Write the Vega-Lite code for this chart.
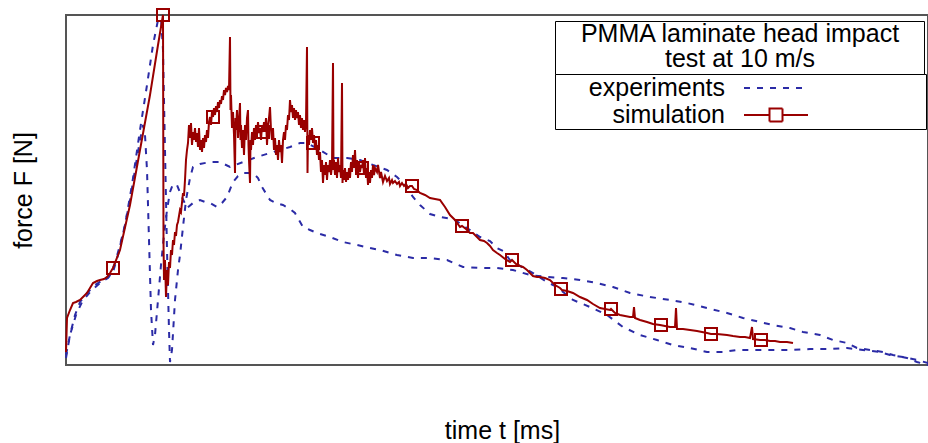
{
  "$schema": "https://vega.github.io/schema/vega-lite/v6.json",
  "width": 862,
  "height": 350,
  "autosize": {"type": "none"},
  "padding": {"left": 66, "top": 15, "right": 0, "bottom": 78},
  "background": "white",
  "config": {
    "font": "Liberation Sans",
    "view": {"stroke": "#555555", "strokeWidth": 2},
    "axis": {"labels": false, "ticks": false, "domain": false, "grid": false,
             "titleFont": "Liberation Sans", "titleFontSize": 25, "titleFontWeight": "normal", "titleColor": "black"}
  },
  "datasets": {
    "exp": [
      {"run": "A", "t": 0, "F": 100}, {"run": "A", "t": 0.04, "F": 300}, {"run": "A", "t": 0.09, "F": 500}, {"run": "A", "t": 0.14, "F": 630},
      {"run": "A", "t": 0.21, "F": 720}, {"run": "A", "t": 0.29, "F": 800}, {"run": "A", "t": 0.37, "F": 850}, {"run": "A", "t": 0.44, "F": 900},
      {"run": "A", "t": 0.49, "F": 1020}, {"run": "A", "t": 0.54, "F": 1200}, {"run": "A", "t": 0.59, "F": 1400}, {"run": "A", "t": 0.64, "F": 1650},
      {"run": "A", "t": 0.69, "F": 1950}, {"run": "A", "t": 0.74, "F": 2250}, {"run": "A", "t": 0.77, "F": 2400}, {"run": "A", "t": 0.79, "F": 2300},
      {"run": "A", "t": 0.81, "F": 1950}, {"run": "A", "t": 0.83, "F": 1250}, {"run": "A", "t": 0.85, "F": 550}, {"run": "A", "t": 0.87, "F": 200},
      {"run": "A", "t": 0.89, "F": 300}, {"run": "A", "t": 0.92, "F": 650}, {"run": "A", "t": 0.95, "F": 1000}, {"run": "A", "t": 0.98, "F": 1300},
      {"run": "A", "t": 1.01, "F": 1550}, {"run": "A", "t": 1.04, "F": 1730}, {"run": "A", "t": 1.07, "F": 1810}, {"run": "A", "t": 1.11, "F": 1800},
      {"run": "A", "t": 1.15, "F": 1700}, {"run": "A", "t": 1.21, "F": 1570}, {"run": "A", "t": 1.27, "F": 1620}, {"run": "A", "t": 1.34, "F": 1650},
      {"run": "A", "t": 1.39, "F": 1630}, {"run": "A", "t": 1.44, "F": 1620}, {"run": "A", "t": 1.51, "F": 1580}, {"run": "A", "t": 1.56, "F": 1620},
      {"run": "A", "t": 1.61, "F": 1680}, {"run": "A", "t": 1.67, "F": 1830}, {"run": "A", "t": 1.72, "F": 1890}, {"run": "A", "t": 1.77, "F": 1920},
      {"run": "A", "t": 1.87, "F": 1920}, {"run": "A", "t": 1.92, "F": 1870}, {"run": "A", "t": 1.96, "F": 1780}, {"run": "A", "t": 2.04, "F": 1650},
      {"run": "A", "t": 2.10, "F": 1620}, {"run": "A", "t": 2.17, "F": 1600}, {"run": "A", "t": 2.24, "F": 1560}, {"run": "A", "t": 2.29, "F": 1520},
      {"run": "A", "t": 2.37, "F": 1380}, {"run": "A", "t": 2.44, "F": 1350}, {"run": "A", "t": 2.51, "F": 1320}, {"run": "A", "t": 2.64, "F": 1280},
      {"run": "A", "t": 2.77, "F": 1230}, {"run": "A", "t": 2.91, "F": 1200}, {"run": "A", "t": 3.04, "F": 1170}, {"run": "A", "t": 3.14, "F": 1150},
      {"run": "A", "t": 3.31, "F": 1100}, {"run": "A", "t": 3.47, "F": 1070}, {"run": "A", "t": 3.64, "F": 1070}, {"run": "A", "t": 3.81, "F": 1050},
      {"run": "A", "t": 3.97, "F": 980}, {"run": "A", "t": 4.14, "F": 970}, {"run": "A", "t": 4.31, "F": 970}, {"run": "A", "t": 4.47, "F": 950},
      {"run": "A", "t": 4.64, "F": 900}, {"run": "A", "t": 4.81, "F": 880}, {"run": "A", "t": 4.97, "F": 870}, {"run": "A", "t": 5.14, "F": 850},
      {"run": "A", "t": 5.31, "F": 820}, {"run": "A", "t": 5.47, "F": 780}, {"run": "A", "t": 5.64, "F": 720}, {"run": "A", "t": 5.84, "F": 680},
      {"run": "A", "t": 6.04, "F": 650}, {"run": "A", "t": 6.21, "F": 620}, {"run": "A", "t": 6.41, "F": 570}, {"run": "A", "t": 6.61, "F": 520},
      {"run": "A", "t": 6.77, "F": 470}, {"run": "A", "t": 6.94, "F": 430}, {"run": "A", "t": 7.07, "F": 400}, {"run": "A", "t": 7.24, "F": 370},
      {"run": "A", "t": 7.37, "F": 330}, {"run": "A", "t": 7.54, "F": 300}, {"run": "A", "t": 7.67, "F": 250}, {"run": "A", "t": 7.81, "F": 220},
      {"run": "A", "t": 7.91, "F": 170}, {"run": "A", "t": 8.04, "F": 150}, {"run": "A", "t": 8.17, "F": 130}, {"run": "A", "t": 8.27, "F": 100},
      {"run": "A", "t": 8.41, "F": 70}, {"run": "A", "t": 8.51, "F": 30}, {"run": "A", "t": 8.62, "F": 0},
      {"run": "B", "t": 0, "F": 70}, {"run": "B", "t": 0.04, "F": 300}, {"run": "B", "t": 0.10, "F": 500}, {"run": "B", "t": 0.16, "F": 630},
      {"run": "B", "t": 0.24, "F": 730}, {"run": "B", "t": 0.34, "F": 820}, {"run": "B", "t": 0.42, "F": 870}, {"run": "B", "t": 0.47, "F": 930},
      {"run": "B", "t": 0.52, "F": 1100}, {"run": "B", "t": 0.59, "F": 1400}, {"run": "B", "t": 0.66, "F": 1800}, {"run": "B", "t": 0.74, "F": 2350},
      {"run": "B", "t": 0.81, "F": 2800}, {"run": "B", "t": 0.87, "F": 3200}, {"run": "B", "t": 0.92, "F": 3450}, {"run": "B", "t": 0.95, "F": 3470},
      {"run": "B", "t": 0.97, "F": 3150}, {"run": "B", "t": 0.99, "F": 2150}, {"run": "B", "t": 1.01, "F": 1150}, {"run": "B", "t": 1.03, "F": 350},
      {"run": "B", "t": 1.04, "F": 30}, {"run": "B", "t": 1.06, "F": 150}, {"run": "B", "t": 1.09, "F": 650}, {"run": "B", "t": 1.12, "F": 950},
      {"run": "B", "t": 1.14, "F": 1100}, {"run": "B", "t": 1.17, "F": 1380}, {"run": "B", "t": 1.20, "F": 1650}, {"run": "B", "t": 1.24, "F": 1870},
      {"run": "B", "t": 1.27, "F": 1980}, {"run": "B", "t": 1.34, "F": 2010}, {"run": "B", "t": 1.44, "F": 2030}, {"run": "B", "t": 1.54, "F": 2030},
      {"run": "B", "t": 1.64, "F": 1980}, {"run": "B", "t": 1.77, "F": 2030}, {"run": "B", "t": 1.91, "F": 2080}, {"run": "B", "t": 2.04, "F": 2120},
      {"run": "B", "t": 2.14, "F": 2150}, {"run": "B", "t": 2.24, "F": 2180}, {"run": "B", "t": 2.34, "F": 2220}, {"run": "B", "t": 2.41, "F": 2220},
      {"run": "B", "t": 2.54, "F": 2150}, {"run": "B", "t": 2.67, "F": 2070}, {"run": "B", "t": 2.81, "F": 2070}, {"run": "B", "t": 2.94, "F": 2050},
      {"run": "B", "t": 3.07, "F": 2000}, {"run": "B", "t": 3.21, "F": 1950}, {"run": "B", "t": 3.31, "F": 1880}, {"run": "B", "t": 3.39, "F": 1800},
      {"run": "B", "t": 3.47, "F": 1680}, {"run": "B", "t": 3.54, "F": 1600}, {"run": "B", "t": 3.64, "F": 1510}, {"run": "B", "t": 3.74, "F": 1480},
      {"run": "B", "t": 3.87, "F": 1460}, {"run": "B", "t": 4.01, "F": 1370}, {"run": "B", "t": 4.14, "F": 1280}, {"run": "B", "t": 4.24, "F": 1240},
      {"run": "B", "t": 4.31, "F": 1170}, {"run": "B", "t": 4.37, "F": 1140}, {"run": "B", "t": 4.44, "F": 1050}, {"run": "B", "t": 4.54, "F": 990},
      {"run": "B", "t": 4.67, "F": 920}, {"run": "B", "t": 4.81, "F": 830}, {"run": "B", "t": 4.91, "F": 780}, {"run": "B", "t": 5.07, "F": 650},
      {"run": "B", "t": 5.24, "F": 580}, {"run": "B", "t": 5.41, "F": 500}, {"run": "B", "t": 5.57, "F": 380}, {"run": "B", "t": 5.74, "F": 300},
      {"run": "B", "t": 5.91, "F": 250}, {"run": "B", "t": 6.07, "F": 200}, {"run": "B", "t": 6.24, "F": 170}, {"run": "B", "t": 6.41, "F": 130},
      {"run": "B", "t": 6.57, "F": 130}, {"run": "B", "t": 6.71, "F": 150}, {"run": "B", "t": 6.84, "F": 150}, {"run": "B", "t": 7.04, "F": 150},
      {"run": "B", "t": 7.24, "F": 150}, {"run": "B", "t": 7.44, "F": 160}, {"run": "B", "t": 7.64, "F": 160}, {"run": "B", "t": 7.81, "F": 170},
      {"run": "B", "t": 7.97, "F": 150}, {"run": "B", "t": 8.14, "F": 130}, {"run": "B", "t": 8.24, "F": 100}, {"run": "B", "t": 8.37, "F": 80},
      {"run": "B", "t": 8.51, "F": 50}, {"run": "B", "t": 8.62, "F": 20}
    ],
    "sim": [
      {"t": 0, "F": 130}, {"t": 0.01, "F": 470}, {"t": 0.04, "F": 550}, {"t": 0.07, "F": 620}, {"t": 0.10, "F": 630}, {"t": 0.14, "F": 650},
      {"t": 0.18, "F": 690}, {"t": 0.21, "F": 720}, {"t": 0.24, "F": 770}, {"t": 0.27, "F": 820}, {"t": 0.31, "F": 840}, {"t": 0.34, "F": 850},
      {"t": 0.38, "F": 860}, {"t": 0.41, "F": 880}, {"t": 0.44, "F": 920}, {"t": 0.47, "F": 970}, {"t": 0.54, "F": 1150}, {"t": 0.64, "F": 1600},
      {"t": 0.74, "F": 2150}, {"t": 0.84, "F": 2700}, {"t": 0.92, "F": 3200}, {"t": 0.97, "F": 3500}, {"t": 0.975, "F": 1220}, {"t": 0.98, "F": 850},
      {"t": 0.99, "F": 1050}, {"t": 1.00, "F": 680}, {"t": 1.01, "F": 950}, {"t": 1.02, "F": 800}, {"t": 1.03, "F": 1030}, {"t": 1.04, "F": 970},
      {"t": 1.05, "F": 1150}, {"t": 1.06, "F": 1100}, {"t": 1.07, "F": 1250}, {"t": 1.08, "F": 1200}, {"t": 1.09, "F": 1330}, {"t": 1.10, "F": 1290},
      {"t": 1.11, "F": 1400}, {"t": 1.12, "F": 1430}, {"t": 1.14, "F": 1550}, {"t": 1.15, "F": 1530}, {"t": 1.17, "F": 1720}, {"t": 1.18, "F": 1690},
      {"t": 1.19, "F": 1850}, {"t": 1.20, "F": 2050}, {"t": 1.21, "F": 2150},
      {"t": 1.22, "F": 2220}, {"t": 1.23, "F": 2400}, {"t": 1.24, "F": 2270}, {"t": 1.25, "F": 2420}, {"t": 1.26, "F": 2200}, {"t": 1.27, "F": 2330},
      {"t": 1.28, "F": 2250}, {"t": 1.29, "F": 2370}, {"t": 1.30, "F": 2230}, {"t": 1.31, "F": 2320}, {"t": 1.32, "F": 2180}, {"t": 1.33, "F": 2370},
      {"t": 1.34, "F": 2150}, {"t": 1.35, "F": 2250}, {"t": 1.36, "F": 2130}, {"t": 1.37, "F": 2270}, {"t": 1.38, "F": 2170}, {"t": 1.39, "F": 2300},
      {"t": 1.40, "F": 2230}, {"t": 1.41, "F": 2350}, {"t": 1.42, "F": 2270}, {"t": 1.43, "F": 2430}, {"t": 1.44, "F": 2480}, {"t": 1.45, "F": 2400},
      {"t": 1.46, "F": 2530}, {"t": 1.47, "F": 2480}, {"t": 1.48, "F": 2570}, {"t": 1.49, "F": 2500}, {"t": 1.50, "F": 2590}, {"t": 1.51, "F": 2530},
      {"t": 1.52, "F": 2630}, {"t": 1.53, "F": 2570}, {"t": 1.54, "F": 2650}, {"t": 1.55, "F": 2610}, {"t": 1.56, "F": 2690}, {"t": 1.57, "F": 2650},
      {"t": 1.58, "F": 2750}, {"t": 1.59, "F": 2700}, {"t": 1.60, "F": 2770}, {"t": 1.61, "F": 2730}, {"t": 1.62, "F": 2790}, {"t": 1.63, "F": 2750},
      {"t": 1.64, "F": 3280}, {"t": 1.645, "F": 2550}, {"t": 1.65, "F": 2700}, {"t": 1.66, "F": 2370}, {"t": 1.67, "F": 2530}, {"t": 1.68, "F": 2300},
      {"t": 1.69, "F": 1920}, {"t": 1.695, "F": 2470}, {"t": 1.70, "F": 2350}, {"t": 1.71, "F": 2550}, {"t": 1.72, "F": 2270}, {"t": 1.73, "F": 2450},
      {"t": 1.74, "F": 2620}, {"t": 1.745, "F": 2250}, {"t": 1.75, "F": 2400}, {"t": 1.76, "F": 2170}, {"t": 1.77, "F": 2350}, {"t": 1.78, "F": 2100},
      {"t": 1.79, "F": 2400}, {"t": 1.80, "F": 2250}, {"t": 1.81, "F": 2470}, {"t": 1.82, "F": 2550}, {"t": 1.825, "F": 2200}, {"t": 1.83, "F": 2050},
      {"t": 1.84, "F": 1820}, {"t": 1.845, "F": 2250}, {"t": 1.85, "F": 2150}, {"t": 1.86, "F": 2330}, {"t": 1.87, "F": 2200}, {"t": 1.88, "F": 2370},
      {"t": 1.89, "F": 2250}, {"t": 1.90, "F": 2400}, {"t": 1.91, "F": 2300}, {"t": 1.92, "F": 2430}, {"t": 1.93, "F": 2320}, {"t": 1.94, "F": 2370},
      {"t": 1.95, "F": 2250}, {"t": 1.96, "F": 2400}, {"t": 1.97, "F": 2330}, {"t": 1.98, "F": 2430}, {"t": 1.99, "F": 2330}, {"t": 2.00, "F": 2470},
      {"t": 2.01, "F": 2200}, {"t": 2.02, "F": 2400}, {"t": 2.03, "F": 2470}, {"t": 2.04, "F": 2580}, {"t": 2.05, "F": 2350}, {"t": 2.06, "F": 2250},
      {"t": 2.07, "F": 2370}, {"t": 2.08, "F": 2150}, {"t": 2.09, "F": 2270}, {"t": 2.10, "F": 2100}, {"t": 2.11, "F": 2200}, {"t": 2.12, "F": 2050},
      {"t": 2.13, "F": 2250}, {"t": 2.14, "F": 2130}, {"t": 2.15, "F": 2200}, {"t": 2.16, "F": 2020}, {"t": 2.17, "F": 2250}, {"t": 2.18, "F": 2330},
      {"t": 2.19, "F": 2250}, {"t": 2.20, "F": 2400}, {"t": 2.21, "F": 2350}, {"t": 2.22, "F": 2500}, {"t": 2.23, "F": 2450}, {"t": 2.24, "F": 2650},
      {"t": 2.25, "F": 2530}, {"t": 2.26, "F": 2600}, {"t": 2.27, "F": 2470}, {"t": 2.28, "F": 2570}, {"t": 2.29, "F": 2450}, {"t": 2.30, "F": 2550},
      {"t": 2.31, "F": 2470}, {"t": 2.32, "F": 2530}, {"t": 2.33, "F": 2400}, {"t": 2.34, "F": 2500}, {"t": 2.35, "F": 2370}, {"t": 2.36, "F": 2470},
      {"t": 2.37, "F": 2350}, {"t": 2.38, "F": 2450}, {"t": 2.39, "F": 2330}, {"t": 2.40, "F": 2430}, {"t": 2.41, "F": 3180}, {"t": 2.415, "F": 1920},
      {"t": 2.42, "F": 2300}, {"t": 2.43, "F": 2200}, {"t": 2.44, "F": 2350}, {"t": 2.45, "F": 2250}, {"t": 2.46, "F": 2370}, {"t": 2.47, "F": 2220},
      {"t": 2.48, "F": 2300}, {"t": 2.49, "F": 2170}, {"t": 2.50, "F": 2250}, {"t": 2.51, "F": 2100}, {"t": 2.52, "F": 2200}, {"t": 2.53, "F": 2050},
      {"t": 2.54, "F": 2130}, {"t": 2.55, "F": 1930}, {"t": 2.56, "F": 2050}, {"t": 2.57, "F": 1820}, {"t": 2.58, "F": 2000}, {"t": 2.59, "F": 1900},
      {"t": 2.60, "F": 2030}, {"t": 2.61, "F": 1850}, {"t": 2.62, "F": 2000}, {"t": 2.63, "F": 1930}, {"t": 2.64, "F": 2050}, {"t": 2.65, "F": 1900},
      {"t": 2.66, "F": 2000}, {"t": 2.67, "F": 3020}, {"t": 2.675, "F": 1950}, {"t": 2.68, "F": 2050}, {"t": 2.69, "F": 1900}, {"t": 2.70, "F": 2030},
      {"t": 2.71, "F": 1870}, {"t": 2.72, "F": 2070}, {"t": 2.73, "F": 1930}, {"t": 2.74, "F": 2000}, {"t": 2.75, "F": 1870}, {"t": 2.76, "F": 2820},
      {"t": 2.765, "F": 1820}, {"t": 2.77, "F": 1950}, {"t": 2.78, "F": 1850}, {"t": 2.79, "F": 1970}, {"t": 2.80, "F": 1830}, {"t": 2.81, "F": 1930},
      {"t": 2.82, "F": 1850}, {"t": 2.83, "F": 1970}, {"t": 2.84, "F": 1870}, {"t": 2.85, "F": 2030}, {"t": 2.86, "F": 1930}, {"t": 2.87, "F": 2100},
      {"t": 2.88, "F": 1970}, {"t": 2.89, "F": 2150}, {"t": 2.90, "F": 1930}, {"t": 2.91, "F": 2050}, {"t": 2.92, "F": 1870}, {"t": 2.93, "F": 2030},
      {"t": 2.94, "F": 1930}, {"t": 2.95, "F": 2000}, {"t": 2.96, "F": 1970}, {"t": 2.97, "F": 2050}, {"t": 2.98, "F": 1900}, {"t": 2.99, "F": 2070},
      {"t": 3.00, "F": 1870}, {"t": 3.01, "F": 1970}, {"t": 3.02, "F": 1800}, {"t": 3.03, "F": 1930}, {"t": 3.04, "F": 1820}, {"t": 3.05, "F": 1950},
      {"t": 3.06, "F": 1870}, {"t": 3.07, "F": 2000}, {"t": 3.08, "F": 1900}, {"t": 3.09, "F": 1970}, {"t": 3.11, "F": 1930}, {"t": 3.12, "F": 2000},
      {"t": 3.14, "F": 1870}, {"t": 3.15, "F": 1930}, {"t": 3.17, "F": 1830}, {"t": 3.19, "F": 1890}, {"t": 3.21, "F": 1840}, {"t": 3.23, "F": 1870},
      {"t": 3.24, "F": 1810}, {"t": 3.26, "F": 1850}, {"t": 3.27, "F": 1820}, {"t": 3.29, "F": 1840}, {"t": 3.31, "F": 1810}, {"t": 3.33, "F": 1830},
      {"t": 3.34, "F": 1790}, {"t": 3.36, "F": 1820}, {"t": 3.38, "F": 1790}, {"t": 3.40, "F": 1810}, {"t": 3.42, "F": 1770}, {"t": 3.44, "F": 1790},
      {"t": 3.46, "F": 1790}, {"t": 3.48, "F": 1760}, {"t": 3.51, "F": 1750},
      {"t": 3.54, "F": 1720}, {"t": 3.59, "F": 1700}, {"t": 3.64, "F": 1670},
      {"t": 3.69, "F": 1660}, {"t": 3.74, "F": 1650}, {"t": 3.79, "F": 1580}, {"t": 3.84, "F": 1500}, {"t": 3.89, "F": 1450}, {"t": 3.94, "F": 1380},
      {"t": 3.96, "F": 1390}, {"t": 4.00, "F": 1360}, {"t": 4.04, "F": 1320}, {"t": 4.07, "F": 1320}, {"t": 4.11, "F": 1280}, {"t": 4.14, "F": 1250},
      {"t": 4.18, "F": 1240}, {"t": 4.21, "F": 1220}, {"t": 4.24, "F": 1190}, {"t": 4.27, "F": 1150}, {"t": 4.31, "F": 1120}, {"t": 4.34, "F": 1100},
      {"t": 4.39, "F": 1060}, {"t": 4.44, "F": 1030}, {"t": 4.46, "F": 1050}, {"t": 4.50, "F": 1010}, {"t": 4.54, "F": 990}, {"t": 4.57, "F": 980},
      {"t": 4.61, "F": 950}, {"t": 4.64, "F": 920}, {"t": 4.67, "F": 890}, {"t": 4.71, "F": 880}, {"t": 4.74, "F": 880}, {"t": 4.79, "F": 870},
      {"t": 4.84, "F": 850}, {"t": 4.89, "F": 800}, {"t": 4.94, "F": 770}, {"t": 4.96, "F": 750}, {"t": 5.01, "F": 740}, {"t": 5.07, "F": 720},
      {"t": 5.14, "F": 680}, {"t": 5.21, "F": 650}, {"t": 5.27, "F": 610}, {"t": 5.34, "F": 570}, {"t": 5.39, "F": 560}, {"t": 5.44, "F": 550},
      {"t": 5.45, "F": 560}, {"t": 5.49, "F": 520}, {"t": 5.54, "F": 500}, {"t": 5.59, "F": 490}, {"t": 5.64, "F": 480}, {"t": 5.67, "F": 480},
      {"t": 5.68, "F": 580}, {"t": 5.69, "F": 470}, {"t": 5.74, "F": 450}, {"t": 5.81, "F": 430}, {"t": 5.87, "F": 410}, {"t": 5.94, "F": 400},
      {"t": 5.99, "F": 390}, {"t": 6.04, "F": 380}, {"t": 6.09, "F": 380}, {"t": 6.10, "F": 570}, {"t": 6.11, "F": 360}, {"t": 6.17, "F": 360},
      {"t": 6.24, "F": 350}, {"t": 6.31, "F": 340}, {"t": 6.41, "F": 320}, {"t": 6.45, "F": 310}, {"t": 6.51, "F": 310}, {"t": 6.61, "F": 300},
      {"t": 6.67, "F": 290}, {"t": 6.74, "F": 280}, {"t": 6.79, "F": 280}, {"t": 6.84, "F": 270}, {"t": 6.86, "F": 380}, {"t": 6.87, "F": 260},
      {"t": 6.94, "F": 250}, {"t": 6.99, "F": 250}, {"t": 7.04, "F": 240}, {"t": 7.09, "F": 240}, {"t": 7.14, "F": 230}, {"t": 7.21, "F": 230},
      {"t": 7.27, "F": 220}
    ],
    "markers": [
      {"t": 0.47, "F": 970}, {"t": 0.97, "F": 3500}, {"t": 1.47, "F": 2480}, {"t": 1.97, "F": 2330}, {"t": 2.47, "F": 2220},
      {"t": 2.96, "F": 1970}, {"t": 3.46, "F": 1790}, {"t": 3.96, "F": 1390}, {"t": 4.46, "F": 1050}, {"t": 4.95, "F": 760},
      {"t": 5.45, "F": 560}, {"t": 5.95, "F": 400}, {"t": 6.45, "F": 310}, {"t": 6.95, "F": 250}
    ]
  },
  "encoding": {
    "x": {"field": "t", "type": "quantitative", "scale": {"domain": [0, 8.62], "nice": false, "zero": false},
          "axis": {"title": "time t [ms]", "titlePadding": 53, "titleX": 436}},
    "y": {"field": "F", "type": "quantitative", "scale": {"domain": [0, 3500], "nice": false},
          "axis": {"title": "force F [N]", "titlePadding": 30}}
  },
  "layer": [
    {
      "data": {"name": "exp"},
      "mark": {"type": "line", "strokeDash": [6, 7], "strokeWidth": 2},
      "encoding": {
        "detail": {"field": "run", "type": "nominal"},
        "color": {
          "datum": "experiments",
          "type": "nominal",
          "scale": {"domain": ["experiments", "simulation"], "range": ["#2b2ba6", "#990000"]},
          "legend": {
            "title": null,
            "orient": "none", "legendX": 489, "legendY": 59,
            "padding": 0.5,
            "strokeColor": "black", "fillColor": "white",
            "labelFont": "Liberation Sans", "labelFontSize": 25, "labelColor": "black",
            "labelAlign": "right", "labelBaseline": "middle", "labelOffset": -64.5, "labelLimit": 400,
            "symbolOffset": 207, "symbolSize": 625, "symbolStrokeWidth": 2,
            "symbolType": "M-2.56,0H2.56M11.64,0",
            "rowPadding": -1,
            "encode": {
              "symbols": {
                "update": {
                  "shape": {"signal": "datum.value === 'simulation' ? 'M-2.56,0H-0.52M0.52,0H2.56M-0.52,-0.52H0.52V0.52H-0.52ZM11.64,0' : 'M-2.56,0H2.56M11.64,0'"},
                  "strokeDash": {"signal": "datum.value === 'experiments' ? [6, 7] : [1, 0]"},
                  "fill": {"value": "transparent"},
                  "strokeWidth": {"value": 2},
                  "opacity": {"value": 1}
                }
              }
            }
          }
        }
      }
    },
    {
      "data": {"name": "sim"},
      "mark": {"type": "line", "strokeWidth": 2},
      "encoding": {
        "color": {"datum": "simulation", "type": "nominal"}
      }
    },
    {
      "data": {"name": "markers"},
      "mark": {"type": "point", "shape": "square", "filled": false, "size": 144, "strokeWidth": 2},
      "encoding": {
        "color": {"datum": "simulation", "type": "nominal"},
        "opacity": {
          "datum": "box",
          "type": "ordinal",
          "scale": {"range": [1, 1]},
          "legend": {
            "title": ["PMMA laminate head impact", "test at 10 m/s"],
            "orient": "none", "legendX": 489, "legendY": 6,
            "padding": 1,
            "strokeColor": "black", "fillColor": "white",
            "titleFont": "Liberation Sans", "titleFontSize": 25, "titleFontWeight": "normal", "titleColor": "black",
            "titleAlign": "center", "titleAnchor": "middle", "titleLineHeight": 25, "titleBaseline": "top",
            "titlePadding": 0, "titleLimit": 1000,
            "symbolType": "M0,0M366,0", "symbolSize": 4, "symbolStrokeWidth": 0, "symbolOpacity": 0,
            "labelExpr": "''", "labelFontSize": 1,
            "rowPadding": 0
          }
        }
      }
    }
  ]
}
